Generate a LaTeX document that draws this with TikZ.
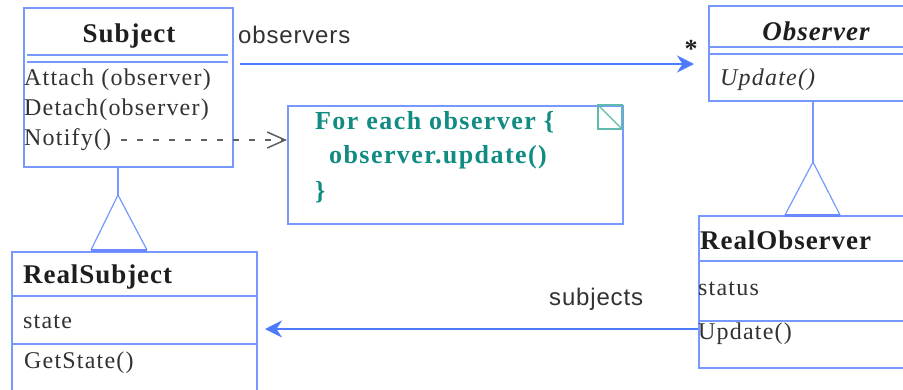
\documentclass[tikz,border=0pt]{standalone}
\usepackage{fontspec}
\setmainfont{Liberation Serif}
\newfontfamily\labelfont{Liberation Sans}
\usetikzlibrary{arrows.meta}
\definecolor{umlblue}{RGB}{118,152,255}
\definecolor{arrowblue}{RGB}{78,122,255}
\definecolor{noteteal}{RGB}{16,140,130}
\definecolor{cornerteal}{RGB}{95,185,175}
\definecolor{inkgray}{RGB}{30,30,30}
\definecolor{membergray}{RGB}{50,50,50}
\definecolor{dotgray}{RGB}{95,95,95}

\begin{document}
\begin{tikzpicture}[x=1pt,y=-1pt,
  classbox/.style={draw=umlblue, line width=2pt, anchor=north west, inner sep=0pt},
  sepline/.style={draw=umlblue, line width=2pt},
  classtitle/.style={font=\fontsize{27}{30}\selectfont\bfseries\addfontfeature{LetterSpace=3.5}, text=inkgray, inner sep=0pt},
  member/.style={font=\fontsize{24}{27}\selectfont\addfontfeature{LetterSpace=5}, text=membergray, inner sep=0pt, anchor=west},
  notetext/.style={font=\fontsize{26}{29}\selectfont\bfseries\addfontfeature{LetterSpace=5.5}, text=noteteal, inner sep=0pt, anchor=west},
  rolelabel/.style={font=\labelfont\fontsize{24}{27}\selectfont\addfontfeature{LetterSpace=3.5}, text=membergray, inner sep=0pt, anchor=west},
  assoc/.style={draw=arrowblue, line width=2pt, -{Stealth[length=17pt,width=17pt]}},
  depends/.style={draw=dotgray, line width=1.2pt, dash pattern=on 6pt off 10pt,
                  -{Straight Barb[length=18pt,width=16pt,line width=1.5pt]}},
  genline/.style={draw=umlblue, line width=2pt},
  gentri/.style={draw=umlblue, line width=1.2pt},
  genbase/.style={draw=umlblue!90!blue, line width=3pt},
]
\clip (0,0) rectangle (903,389);
\useasboundingbox (0,0) rectangle (903,389);
\fill[white] (0,0) rectangle (903,389);

% ---- Subject ----
\node[classbox, minimum width=209pt, minimum height=159pt] (subject) at (23,7) {};
\node[classtitle] (subjecttitle) at (129,36) {Subject};
\draw[sepline] (27,55) -- (228,55);
\draw[sepline] (27,62) -- (228,62);
\node[member] (attach) at (24,80) {Attach (observer)};
\node[member] (detach) at (24,110) {Detach(observer)};
\node[member] (notify) at (24,140) {Notify()};

% ---- RealSubject ----
\node[classbox, minimum width=245pt, minimum height=169pt] (realsubject) at (11,251) {};
\node[classtitle, anchor=west] (realsubjecttitle) at (23,277) {RealSubject};
\draw[sepline] (11,296) -- (256,296);
\draw[sepline] (11,344) -- (256,344);
\node[member] (state) at (23,322) {state};
\node[member] (getstate) at (24,363) {GetState()};

% ---- Observer ----
\node[classbox, minimum width=212pt, minimum height=95pt] (observer) at (708,5) {};
\node[classtitle, font=\fontsize{27}{30}\selectfont\bfseries\itshape\addfontfeature{LetterSpace=3.5}] (observertitle) at (816,31) {Observer};
\draw[sepline] (708,47) -- (920,47);
\draw[sepline] (708,54) -- (920,54);
\node[member, font=\fontsize{24}{27}\selectfont\itshape\addfontfeature{LetterSpace=5}] (abstractupdate) at (720,80) {Update()};

% ---- RealObserver ----
\node[classbox, minimum width=222pt, minimum height=152pt] (realobserver) at (698,215) {};
\node[classtitle, anchor=west] (realobservertitle) at (700,240) {RealObserver};
\draw[sepline] (698,261) -- (920,261);
\draw[sepline] (698,321) -- (920,321);
\node[member] (status) at (698,289) {status};
\node[member] (update) at (698,334) {Update()};

% ---- Note ----
\node[classbox, minimum width=335pt, minimum height=118pt] (note) at (287,105) {};
\draw[cornerteal, line width=1.5pt] (598,105) rectangle (622,129);
\draw[cornerteal, line width=1.2pt] (598,105) -- (622,129);
\node[notetext] (noteline1) at (315,122) {For each observer \{};
\node[notetext] (noteline2) at (329,157) {observer.update()};
\node[notetext] (noteline3) at (315,192) {\}};

% ---- observers association ----
\coordinate (obsstart) at (240,64);
\draw[assoc, shorten >=14pt] (obsstart) -- (observer.west |- obsstart);
\node[rolelabel] (observerslabel) at (238,35) {observers};
\node[font=\fontsize{26}{26}\selectfont\bfseries, text=inkgray, inner sep=0pt] (multiplicity) at (691,49) {*};

% ---- subjects association ----
\coordinate (subjrow) at (0,329);
\draw[assoc, shorten >=7pt] (realobserver.west |- subjrow) -- (realsubject.east |- subjrow);
\node[rolelabel] (subjectslabel) at (549,299) {subjects};

% ---- Notify dependency to the note ----
\draw[depends] ([xshift=10pt]notify.east) -- (note.west |- notify.east);

% ---- generalisation: RealSubject to Subject ----
\coordinate (sapex) at (118,195);
\coordinate (sbaseL) at (91,250);
\coordinate (sbaseR) at (147,250);
\draw[genline] (subject.south -| sapex) -- (sapex);
\draw[gentri] (sbaseL) -- (sapex) -- (sbaseR);
\draw[genbase] (sbaseL) -- (sbaseR);

% ---- generalisation: RealObserver to Observer ----
\coordinate (oapex) at (813,162);
\coordinate (obaseL) at (785,215);
\coordinate (obaseR) at (840,215);
\draw[genline] (observer.south -| oapex) -- (oapex);
\draw[gentri] (obaseL) -- (oapex) -- (obaseR);
\draw[genbase] (obaseL) -- (obaseR);
\end{tikzpicture}
\end{document}
